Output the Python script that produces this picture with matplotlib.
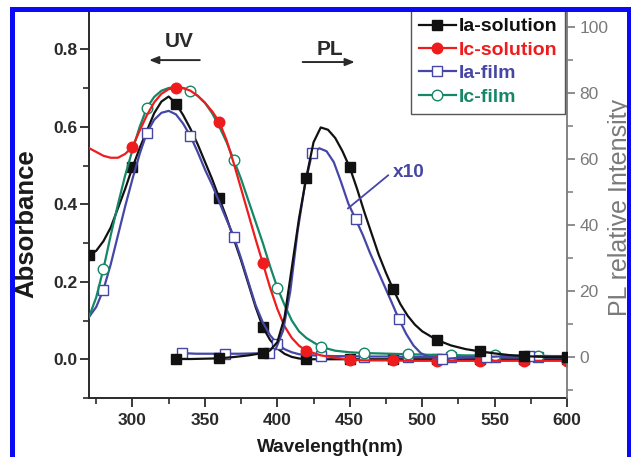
import matplotlib
matplotlib.use("Agg")
import matplotlib.pyplot as plt
from matplotlib.patches import Rectangle
from matplotlib.lines import Line2D
from matplotlib.ticker import MultipleLocator

plt.rcParams["font.family"] = ["Liberation Sans", "DejaVu Sans"]

# ---------------- data ----------------
# absorption spectra (left axis)
wl_abs = [270, 275, 280, 285, 290, 295, 300, 305, 310, 315, 320, 325, 330, 335,
          340, 345, 350, 355, 360, 365, 370, 375, 380, 385, 390, 395, 400, 405,
          410, 415, 420, 430, 440, 450, 460, 470, 480, 490, 500, 510, 520, 530,
          540, 550, 560, 570, 580, 590, 600]

abs_ia_solution = [0.268, 0.280, 0.305, 0.340, 0.390, 0.440, 0.495, 0.545, 0.590,
                   0.635, 0.665, 0.678, 0.660, 0.630, 0.595, 0.555, 0.510, 0.465,
                   0.415, 0.365, 0.310, 0.255, 0.195, 0.135, 0.083, 0.050, 0.028,
                   0.014, 0.006, 0.002, 0.000, 0.000, 0.000, 0.000, 0.000, 0.000,
                   0.000, 0.000, 0.000, 0.000, 0.000, 0.000, 0.000, 0.000, 0.000,
                   0.000, 0.000, 0.000, 0.000]

abs_ic_solution = [0.545, 0.535, 0.525, 0.520, 0.520, 0.530, 0.548, 0.590, 0.630,
                   0.663, 0.685, 0.697, 0.700, 0.700, 0.693, 0.680, 0.662, 0.640,
                   0.612, 0.565, 0.505, 0.440, 0.375, 0.310, 0.248, 0.185, 0.130,
                   0.085, 0.055, 0.035, 0.022, 0.010, 0.004, -0.001, -0.003, -0.003,
                   -0.003, -0.004, -0.004, -0.004, -0.004, -0.004, -0.004, -0.004,
                   -0.004, -0.004, -0.004, -0.004, -0.004]

abs_ia_film = [0.109, 0.135, 0.180, 0.245, 0.320, 0.395, 0.465, 0.530, 0.585,
               0.618, 0.636, 0.641, 0.632, 0.608, 0.576, 0.535, 0.490, 0.450,
               0.405, 0.360, 0.316, 0.260, 0.200, 0.140, 0.095, 0.062, 0.040,
               0.026, 0.018, 0.013, 0.011, 0.009, 0.008, 0.008, 0.007, 0.007,
               0.007, 0.006, 0.006, 0.006, 0.006, 0.006, 0.005, 0.005, 0.005,
               0.005, 0.005, 0.005, 0.005]

abs_ic_film = [0.109, 0.160, 0.234, 0.320, 0.400, 0.475, 0.540, 0.600, 0.649,
               0.677, 0.693, 0.700, 0.703, 0.700, 0.693, 0.680, 0.662, 0.635,
               0.600, 0.560, 0.514, 0.465, 0.410, 0.355, 0.300, 0.240, 0.185,
               0.140, 0.100, 0.072, 0.055, 0.032, 0.022, 0.018, 0.016, 0.015,
               0.014, 0.013, 0.012, 0.011, 0.011, 0.010, 0.010, 0.010, 0.009,
               0.009, 0.009, 0.008, 0.008]

# photoluminescence spectra (right axis)
wl_pl_ia_solution = [330, 340, 350, 360, 370, 380, 390, 395, 400, 405, 410, 415,
                     420, 425, 430, 435, 440, 445, 450, 455, 460, 465, 470, 475,
                     480, 485, 490, 495, 500, 510, 520, 530, 540, 550, 560, 570,
                     580, 590, 600]
pl_ia_solution = [-0.6, -0.6, -0.5, -0.4, 0.0, 0.5, 1.2, 2.0, 4.5, 12.0, 27.0,
                  42.0, 54.3, 65.0, 69.5, 68.8, 66.3, 62.3, 57.4, 51.0, 44.0,
                  37.5, 31.0, 25.5, 20.5, 16.0, 12.5, 9.8, 7.8, 5.2, 3.5, 2.4,
                  1.7, 1.1, 0.6, 0.3, 0.1, 0.0, 0.0]

wl_pl_ia_film = [334, 344, 354, 364, 374, 384, 394, 399, 404, 409, 414, 419, 424,
                 429, 434, 439, 444, 449, 454, 459, 464, 469, 474, 479, 484, 489,
                 494, 499, 504, 514, 524, 534, 544, 554, 564, 574, 584, 594, 600]
pl_ia_film = [1.2, 1.0, 1.0, 1.0, 1.0, 1.1, 1.2, 2.5, 8.0, 20.0, 38.0, 52.0, 61.7,
              63.2, 62.3, 59.0, 53.0, 46.5, 41.8, 37.0, 31.5, 26.5, 21.5, 16.5,
              11.4, 7.0, 3.5, 1.2, 0.2, -0.6, -0.3, 0.0, 0.0, 0.2, 0.3, 0.3, 0.3,
              0.3, 0.3]

# wavelengths carrying a symbol
mk_abs_ia_solution = [270, 300, 330, 360, 390, 420, 450, 480, 510, 540, 570, 600]
mk_abs_ic_solution = [300, 330, 360, 390, 420, 450, 480, 510, 540, 570, 600]
mk_abs_film = [280, 310, 340, 370, 400, 430, 460, 490, 520, 550, 580]
mk_pl_ia_solution = [330, 360, 390, 420, 450, 480, 510, 540, 570, 600]
mk_pl_ia_film = [334, 364, 394, 424, 454, 484, 514, 544, 574]

series_labels = ["Ia-solution", "Ic-solution", "Ia-film", "Ic-film"]
x_ticks = [300, 350, 400, 450, 500, 550, 600]
abs_ticks = [0.0, 0.2, 0.4, 0.6, 0.8]
pl_ticks = [0, 20, 40, 60, 80, 100]

# ---------------- styling ----------------
C_BLACK = "#111111"
C_RED = "#ee1c1c"
C_BLUE = "#4646a6"
C_TEAL = "#158766"
C_DARK = "#2a2a2a"
C_GRAY = "#7a7a7a"
LW = 1.6
MS = 6.8

W, H, DPI = 632, 457, 100
fig = plt.figure(figsize=(W / DPI, H / DPI), dpi=DPI)
fig.patch.set_facecolor("white")


def fx(px):
    return px / W


def fy(py):
    return 1 - py / H


ax = fig.add_axes([fx(89), fy(398), fx(567) - fx(89), fy(10.5) - fy(398)])
ax2 = ax.twinx()


def idx(xs, marks):
    return [xs.index(m) for m in marks]


# absorption
ax.plot(wl_abs, abs_ia_solution, color=C_BLACK, lw=LW, marker="s", ms=MS,
        mfc=C_BLACK, mec=C_BLACK, markevery=idx(wl_abs, mk_abs_ia_solution), zorder=3)
ax.plot(wl_abs, abs_ia_film, color=C_BLUE, lw=LW, marker="s", ms=MS,
        mfc="white", mec=C_BLUE, mew=1.0, markevery=idx(wl_abs, mk_abs_film), zorder=3)
ax.plot(wl_abs, abs_ic_film, color=C_TEAL, lw=LW, marker="o", ms=MS + 0.8,
        mfc="white", mec=C_TEAL, mew=1.0, markevery=idx(wl_abs, mk_abs_film), zorder=3)
ax.plot(wl_abs, abs_ic_solution, color=C_RED, lw=LW, marker="o", ms=MS + 0.8,
        mfc=C_RED, mec=C_RED, markevery=idx(wl_abs, mk_abs_ic_solution), zorder=4)

# photoluminescence
ax2.plot(wl_pl_ia_film, pl_ia_film, color=C_BLUE, lw=LW, marker="s", ms=MS,
         mfc="white", mec=C_BLUE, mew=1.0,
         markevery=idx(wl_pl_ia_film, mk_pl_ia_film), zorder=3)
ax2.plot(wl_pl_ia_solution, pl_ia_solution, color=C_BLACK, lw=LW, marker="s", ms=MS,
         mfc=C_BLACK, mec=C_BLACK,
         markevery=idx(wl_pl_ia_solution, mk_pl_ia_solution), zorder=3)

# axes ranges and ticks
ax.set_xlim(270, 600)
ax.set_ylim(-0.1, 0.9)
ax2.set_ylim(-12.4, 104.9)

ax.set_xticks(x_ticks, [str(t) for t in x_ticks], fontweight="bold")
ax.set_yticks(abs_ticks, [f"{t:.1f}" for t in abs_ticks], fontweight="bold")
ax2.set_yticks(pl_ticks, [str(t) for t in pl_ticks])
ax.xaxis.set_minor_locator(MultipleLocator(25))
ax.yaxis.set_minor_locator(MultipleLocator(0.1))
ax2.yaxis.set_minor_locator(MultipleLocator(10))

ax.tick_params(which="major", direction="out", length=6.5, width=1.3,
               color=C_DARK, labelcolor=C_DARK, labelsize=12.5)
ax.tick_params(axis="x", which="major", pad=4)
ax.tick_params(axis="y", which="major", pad=1.5)
ax.tick_params(which="minor", direction="out", length=4, width=1.2, color=C_DARK)
ax2.tick_params(which="major", direction="out", length=6, width=1.2,
                color=C_GRAY, labelcolor=C_GRAY, labelsize=12.5, pad=3)
ax2.tick_params(which="minor", direction="out", length=4, width=1.1, color=C_GRAY)

for s in ("top", "right"):
    ax.spines[s].set_visible(False)
for s in ("left", "bottom"):
    ax.spines[s].set_color(C_DARK)
    ax.spines[s].set_linewidth(1.4)
for s in ("top", "left", "bottom"):
    ax2.spines[s].set_visible(False)
ax2.spines["right"].set_color(C_GRAY)
ax2.spines["right"].set_linewidth(1.3)

# annotations
ax.text(332.5, 0.806, "UV", ha="center", va="baseline", fontsize=15,
        fontweight="bold", color=C_DARK)
ax.annotate("", xy=(311.5, 0.772), xytext=(346.5, 0.772),
            arrowprops=dict(arrowstyle="-|>,head_length=0.55,head_width=0.22",
                            color=C_DARK, lw=1.4, shrinkA=0, shrinkB=0))
ax.text(436, 0.785, "PL", ha="center", va="baseline", fontsize=15,
        fontweight="bold", color=C_DARK)
ax.annotate("", xy=(453.5, 0.767), xytext=(417.5, 0.767),
            arrowprops=dict(arrowstyle="-|>,head_length=0.55,head_width=0.22",
                            color=C_DARK, lw=1.4, shrinkA=0, shrinkB=0))
ax2.plot([448.8, 476.5], [45, 55], color=C_BLUE, lw=1.3, zorder=4)
ax2.text(479.5, 54.4, "x10", ha="left", va="baseline", fontsize=13.7,
         fontweight="bold", color=C_BLUE)

# legend
colors = [C_BLACK, C_RED, C_BLUE, C_TEAL]
handles = [
    Line2D([], [], color=C_BLACK, lw=LW, marker="s", ms=MS, mfc=C_BLACK, mec=C_BLACK),
    Line2D([], [], color=C_RED, lw=LW, marker="o", ms=MS + 0.8, mfc=C_RED, mec=C_RED),
    Line2D([], [], color=C_BLUE, lw=LW, marker="s", ms=MS, mfc="white", mec=C_BLUE),
    Line2D([], [], color=C_TEAL, lw=LW, marker="o", ms=MS + 0.8, mfc="white", mec=C_TEAL),
]
leg = ax2.legend(handles, series_labels, loc="upper right",
                 bbox_to_anchor=(fx(565), fy(10)), bbox_transform=fig.transFigure,
                 borderaxespad=0, prop={"weight": "bold", "size": 14},
                 labelspacing=0.3, handlelength=1.9, handletextpad=0.15,
                 borderpad=0.4, fancybox=False, framealpha=1,
                 edgecolor="#555555")
leg.get_frame().set_linewidth(1.0)
for t, c in zip(leg.get_texts(), colors):
    t.set_color(c)

# axis titles
fig.text(fx(33), fy(224), "Absorbance", rotation=90, rotation_mode="anchor",
         ha="center", va="baseline", fontsize=18.5, fontweight="bold", color="#1a1a1a")
fig.text(fx(627), fy(208), "PL relative Intensity", rotation=90,
         rotation_mode="anchor", ha="center", va="baseline", fontsize=18,
         color=C_GRAY)
fig.text(fx(330), fy(451.5), "Wavelength(nm)", ha="center", va="baseline",
         fontsize=13.7, fontweight="bold", color="#1a1a1a")

# blue frame around the figure
BLUE = "#0a0af5"
for (x0, y0, x1, y1) in [(10, 7, 14.5, 457), (10, 7, 631, 12), (626.5, 7, 631, 457)]:
    fig.add_artist(Rectangle((fx(x0), fy(y1)), fx(x1) - fx(x0), fy(y0) - fy(y1),
                             transform=fig.transFigure, facecolor=BLUE,
                             edgecolor="none", zorder=20))

fig.savefig("out.png", dpi=DPI)
